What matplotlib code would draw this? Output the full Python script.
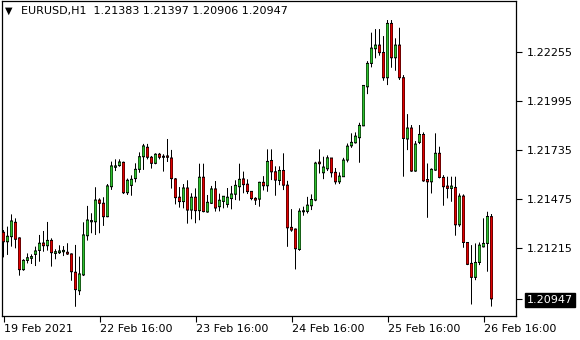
import pandas as pd
import matplotlib
matplotlib.use("Agg")
import matplotlib.pyplot as plt

# ================================
# Data: EURUSD H1 bars
# ================================
symbol = "EURUSD,H1"

opens = [
    1.21300, 1.21250, 1.21277, 1.21353, 1.21270, 1.21102, 1.21151, 1.21162, 1.21183, 1.21204,
    1.21243, 1.21229, 1.21257, 1.21188, 1.21192, 1.21197, 1.21194, 1.21185, 1.21088, 1.20990,
    1.21074, 1.21282, 1.21356, 1.21356, 1.21471, 1.21454, 1.21383, 1.21542, 1.21645, 1.21654,
    1.21671, 1.21510, 1.21549, 1.21585, 1.21634, 1.21701, 1.21751, 1.21698, 1.21666, 1.21714,
    1.21701, 1.21705, 1.21694, 1.21583, 1.21486, 1.21463, 1.21535, 1.21418, 1.21486, 1.21415,
    1.21592, 1.21408, 1.21454, 1.21530, 1.21436, 1.21464, 1.21448, 1.21479, 1.21502, 1.21542,
    1.21583, 1.21555, 1.21517, 1.21480, 1.21476, 1.21565, 1.21547, 1.21681, 1.21621, 1.21575,
    1.21628, 1.21550, 1.21326, 1.21317, 1.21209, 1.21409, 1.21411, 1.21441, 1.21471, 1.21672,
    1.21616, 1.21637, 1.21694, 1.21618, 1.21568, 1.21595, 1.21683, 1.21759, 1.21775, 1.21802,
    1.21865, 1.22072, 1.22196, 1.22274, 1.22293, 1.22254, 1.22120, 1.22408, 1.22226, 1.22293,
    1.22120, 1.21795, 1.21853, 1.21625, 1.21777, 1.21819, 1.21580, 1.21568, 1.21630, 1.21719,
    1.21591, 1.21545, 1.21533, 1.21538, 1.21340, 1.21492, 1.21246, 1.21135, 1.21061, 1.21140,
    1.21223, 1.21241, 1.21383,
]
highs = [
    1.21312, 1.21330, 1.21395, 1.21374, 1.21273, 1.21157, 1.21188, 1.21183, 1.21224, 1.21286,
    1.21307, 1.21355, 1.21268, 1.21210, 1.21231, 1.21227, 1.21242, 1.21188, 1.21233, 1.21171,
    1.21353, 1.21440, 1.21401, 1.21539, 1.21480, 1.21486, 1.21556, 1.21675, 1.21687, 1.21687,
    1.21675, 1.21585, 1.21602, 1.21666, 1.21724, 1.21769, 1.21769, 1.21705, 1.21719, 1.21721,
    1.21714, 1.21795, 1.21737, 1.21588, 1.21540, 1.21556, 1.21576, 1.21507, 1.21533, 1.21664,
    1.21664, 1.21498, 1.21546, 1.21572, 1.21505, 1.21491, 1.21535, 1.21546, 1.21576, 1.21664,
    1.21622, 1.21581, 1.21519, 1.21486, 1.21568, 1.21598, 1.21740, 1.21740, 1.21650, 1.21650,
    1.21719, 1.21573, 1.21423, 1.21320, 1.21427, 1.21436, 1.21488, 1.21501, 1.21674, 1.21740,
    1.21701, 1.21708, 1.21694, 1.21641, 1.21618, 1.21695, 1.21771, 1.21825, 1.21830, 1.21881,
    1.22079, 1.22208, 1.22359, 1.22378, 1.22378, 1.22341, 1.22426, 1.22426, 1.22329, 1.22385,
    1.22134, 1.21927, 1.21869, 1.21784, 1.21869, 1.21830, 1.21665, 1.21639, 1.21825, 1.21754,
    1.21603, 1.21595, 1.21595, 1.21595, 1.21506, 1.21501, 1.21246, 1.21232, 1.21241, 1.21246,
    1.21374, 1.21409, 1.21397,
]
lows = [
    1.21167, 1.21180, 1.21224, 1.21215, 1.21070, 1.21096, 1.21135, 1.21132, 1.21121, 1.21144,
    1.21197, 1.21203, 1.21118, 1.21157, 1.21185, 1.21174, 1.21180, 1.21043, 1.20905, 1.20967,
    1.21068, 1.21256, 1.21295, 1.21286, 1.21295, 1.21334, 1.21380, 1.21525, 1.21625, 1.21648,
    1.21503, 1.21498, 1.21494, 1.21565, 1.21616, 1.21631, 1.21687, 1.21638, 1.21661, 1.21687,
    1.21622, 1.21673, 1.21532, 1.21448, 1.21431, 1.21427, 1.21346, 1.21369, 1.21348, 1.21364,
    1.21406, 1.21404, 1.21450, 1.21410, 1.21411, 1.21427, 1.21431, 1.21422, 1.21471, 1.21468,
    1.21507, 1.21503, 1.21470, 1.21445, 1.21436, 1.21522, 1.21515, 1.21577, 1.21494, 1.21550,
    1.21524, 1.21223, 1.21303, 1.21103, 1.21202, 1.21388, 1.21400, 1.21418, 1.21465, 1.21612,
    1.21582, 1.21625, 1.21591, 1.21554, 1.21556, 1.21595, 1.21671, 1.21748, 1.21771, 1.21669,
    1.21863, 1.22033, 1.22175, 1.22223, 1.22237, 1.22104, 1.22081, 1.22173, 1.22157, 1.22108,
    1.21595, 1.21736, 1.21621, 1.21621, 1.21768, 1.21568, 1.21377, 1.21506, 1.21626, 1.21586,
    1.21441, 1.21480, 1.21462, 1.21282, 1.21329, 1.21218, 1.21126, 1.20917, 1.21046, 1.21126,
    1.21220, 1.21091, 1.20906,
]
closes = [
    1.21250, 1.21279, 1.21360, 1.21263, 1.21102, 1.21151, 1.21165, 1.21171, 1.21201, 1.21242,
    1.21229, 1.21257, 1.21192, 1.21197, 1.21201, 1.21204, 1.21185, 1.21091, 1.20996, 1.21079,
    1.21286, 1.21365, 1.21362, 1.21471, 1.21454, 1.21383, 1.21546, 1.21652, 1.21652, 1.21673,
    1.21510, 1.21576, 1.21581, 1.21634, 1.21701, 1.21758, 1.21698, 1.21666, 1.21714, 1.21698,
    1.21698, 1.21698, 1.21585, 1.21484, 1.21463, 1.21535, 1.21418, 1.21486, 1.21415, 1.21592,
    1.21410, 1.21459, 1.21530, 1.21429, 1.21470, 1.21491, 1.21486, 1.21503, 1.21549, 1.21581,
    1.21553, 1.21516, 1.21479, 1.21471, 1.21565, 1.21547, 1.21676, 1.21621, 1.21577, 1.21628,
    1.21550, 1.21324, 1.21312, 1.21213, 1.21412, 1.21414, 1.21444, 1.21474, 1.21667, 1.21664,
    1.21646, 1.21695, 1.21616, 1.21568, 1.21598, 1.21683, 1.21757, 1.21777, 1.21810, 1.21867,
    1.22079, 1.22196, 1.22277, 1.22293, 1.22253, 1.22120, 1.22408, 1.22226, 1.22293, 1.22120,
    1.21798, 1.21853, 1.21625, 1.21768, 1.21819, 1.21573, 1.21568, 1.21634, 1.21719, 1.21591,
    1.21542, 1.21533, 1.21545, 1.21340, 1.21492, 1.21246, 1.21130, 1.21061, 1.21140, 1.21232,
    1.21241, 1.21384, 1.20947,
]

# hourly bar times, weekend skipped
times = list(pd.date_range("2021-02-19 16:00", periods=8, freq="h")) + \
        list(pd.date_range("2021-02-22 00:00", periods=len(opens) - 8, freq="h"))

price_levels = [1.21215, 1.21475, 1.21735, 1.21995, 1.22255]

# ================================
# Figure
# ================================
plt.rcParams['font.family'] = ['DejaVu Sans']
fig = plt.figure(figsize=(5.8, 3.4), dpi=100)
# axes placed on whole pixels so 4px-wide bar slots line up with the pixel grid
ax = fig.add_axes([2 / 580, 24 / 340, 514 / 580, 315 / 340])

ymin, ymax = 1.20856, 1.22527
ax.set_xlim(-0.375, -0.375 + 514 / 4)
ax.set_ylim(ymin, ymax)

green = '#2fc12f'
red = '#e00000'
px_y = (ymax - ymin) / 315   # one screen pixel in price units
px_x = 0.25                  # one screen pixel in bar units

x = list(range(len(opens)))
body_lo = [min(o, c) for o, c in zip(opens, closes)]
body_hi = [max(o, c) for o, c in zip(opens, closes)]
colors = [green if c >= o else red for o, c in zip(opens, closes)]

# wicks
ax.bar(x, [h - l for h, l in zip(highs, lows)], width=px_x, bottom=lows,
       color='black', linewidth=0, snap=False, zorder=2)
# body outline (black) then coloured fill inside
outer_h = [max(hi - lo + px_y, 2 * px_y) for lo, hi in zip(body_lo, body_hi)]
ax.bar(x, outer_h, width=3 * px_x, bottom=[lo - px_y / 2 for lo in body_lo],
       color='black', linewidth=0, snap=False, zorder=3)
inner_h = [max(hi - lo - px_y, 0) for lo, hi in zip(body_lo, body_hi)]
ax.bar(x, inner_h, width=2 * px_x, bottom=[lo + px_y / 2 for lo in body_lo],
       color=colors, linewidth=0, snap=False, zorder=4)

# x ticks at 16:00 each day
tick_idx = [i for i, t in enumerate(times) if t.hour == 16]
tick_lab = []
for k, i in enumerate(tick_idx):
    if k == 0:
        tick_lab.append(times[i].strftime("%d %b %Y"))
    else:
        tick_lab.append(times[i].strftime("%d %b %H:%M"))
ax.set_xticks(tick_idx)
ax.set_xticklabels(tick_lab, ha='left', fontsize=8)
ax.tick_params(axis='x', direction='out', length=4, width=0.8, pad=2)

# y ticks on the right
last = closes[-1]
ax.yaxis.tick_right()
ax.set_yticks(price_levels + [last])
ax.set_yticklabels([f"{p:.5f}" for p in price_levels] + [f"{last:.5f}"], fontsize=8)
ax.tick_params(axis='y', direction='out', length=4, width=0.8, pad=4)
lab = ax.get_yticklabels()[-1]
lab.set_color('white')
lab.set_bbox(dict(facecolor='black', edgecolor='black', pad=1.5))

for s in ax.spines.values():
    s.set_linewidth(0.9)
    s.set_color('black')

# header
fig.text(5 / 580, 1 - 11 / 340, "\u25BC", fontsize=7, va='center', ha='left')
fig.text(21 / 580, 1 - 11 / 340,
         f"{symbol}  {opens[-1]:.5f} {highs[-1]:.5f} {lows[-1]:.5f} {closes[-1]:.5f}",
         fontsize=8, va='center', ha='left')

fig.savefig("out.png", dpi=100)
